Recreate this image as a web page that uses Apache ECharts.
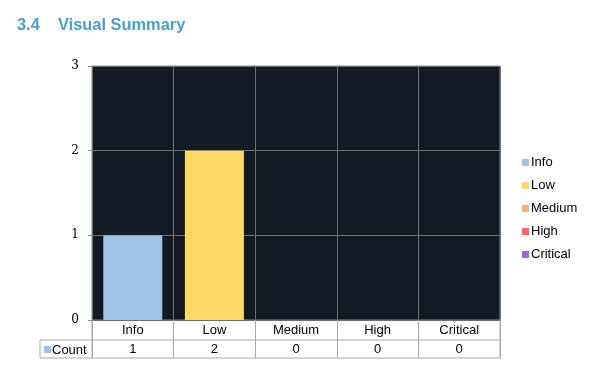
<!DOCTYPE html>
<html><head><meta charset="utf-8">
<script src="https://cdn.jsdelivr.net/npm/echarts@6/dist/echarts.min.js"></script>
<style>html,body{margin:0;padding:0;background:#fff}#c{width:601px;height:382px}</style>
</head><body><div id="c"></div>
<script>
const categories = ['Info', 'Low', 'Medium', 'High', 'Critical'];
const counts = [1, 2, 0, 0, 0];
const yTicks = [0, 1, 2, 3];
const seriesName = 'Count';
const colors = ['#9DC3E6', '#FFD966', '#F4B183', '#FF6666', '#9E6BCB'];

const G = {left: 92, right: 101, top: 66, bottom: 62};
const chart = echarts.init(document.getElementById('c'));
const series = categories.map((c, i) => ({
  name: c, type: 'bar', stack: 'all', barWidth: 59,
  itemStyle: {color: colors[i]},
  data: categories.map((_, j) => j === i ? counts[i] : '-')
}));
const option = {
  animation: false,
  title: {text: '3.4    Visual Summary', left: 12, top: 12,
    textStyle: {fontFamily: 'Liberation Sans, Arial', fontSize: 16.4, fontWeight: 'bold', color: '#4A9FCB'}},
  grid: {left: G.left, right: G.right, top: G.top, bottom: G.bottom, show: true,
    backgroundColor: '#131A23', borderColor: '#8a8a8a', borderWidth: 1},
  legend: {orient: 'vertical', left: 517, top: 151, itemWidth: 7, itemHeight: 7, itemGap: 10,
    icon: 'rect', data: categories,
    textStyle: {fontFamily: 'Liberation Sans, Arial', fontSize: 13, color: '#000', padding: [0,0,0,-3]}},
  xAxis: [{
    type: 'category', data: categories, position: 'bottom',
    axisLine: {show: false},
    axisTick: {show: true, alignWithLabel: false, length: 38, lineStyle: {color: '#a8a8a8'}},
    axisLabel: {margin: 4, fontFamily: 'Liberation Sans, Arial', fontSize: 13, color: '#000'},
    splitLine: {show: true, interval: 0, lineStyle: {color: '#6e6e6e'}}
  }, {
    type: 'category', data: categories, position: 'bottom', offset: 20,
    axisLine: {show: false}, axisTick: {show: false},
    axisLabel: {margin: 3, fontFamily: 'Liberation Sans, Arial', fontSize: 13, color: '#000',
      formatter: (v, i) => String(counts[i])}
  }],
  yAxis: {type: 'value', min: yTicks[0], max: yTicks[yTicks.length - 1], interval: 1,
    axisLine: {show: false},
    axisTick: {show: true, length: 4, lineStyle: {color: '#8a8a8a'}},
    axisLabel: {margin: 13, fontFamily: 'DejaVu Serif, Liberation Serif', fontSize: 12, color: '#000'},
    splitLine: {lineStyle: {color: '#6e6e6e'}}},
  series: series
};
chart.setOption(option);

// table decorations derived from grid layout
const W = 601, H = 382;
const x0 = G.left, x1 = W - G.right, yb = H - G.bottom;
const rowH = 20, row2H = 18, lx = 40;
const lineC = '#a8a8a8';
chart.setOption({graphic: [
  {type: 'line', shape: {x1: lx, y1: yb + rowH, x2: x1, y2: yb + rowH}, style: {stroke: lineC, lineWidth: 1}},
  {type: 'line', shape: {x1: lx, y1: yb + rowH + row2H, x2: x1, y2: yb + rowH + row2H}, style: {stroke: lineC, lineWidth: 1}},
  {type: 'line', shape: {x1: lx, y1: yb + rowH, x2: lx, y2: yb + rowH + row2H}, style: {stroke: lineC, lineWidth: 1}},
  {type: 'line', shape: {x1: x0, y1: yb, x2: x0, y2: yb + rowH + row2H}, style: {stroke: lineC, lineWidth: 1}},
  {type: 'line', shape: {x1: x1, y1: yb, x2: x1, y2: yb + rowH + row2H}, style: {stroke: lineC, lineWidth: 1}},
  {type: 'rect', shape: {x: lx + 4, y: yb + rowH + 6, width: 7, height: 7}, style: {fill: colors[0]}},
  {type: 'text', x: lx + 12, y: yb + rowH + row2H / 2 + 1, style: {text: seriesName, textVerticalAlign: 'middle',
    font: '13px "Liberation Sans", Arial', fill: '#000'}}
]});
</script></body></html>
